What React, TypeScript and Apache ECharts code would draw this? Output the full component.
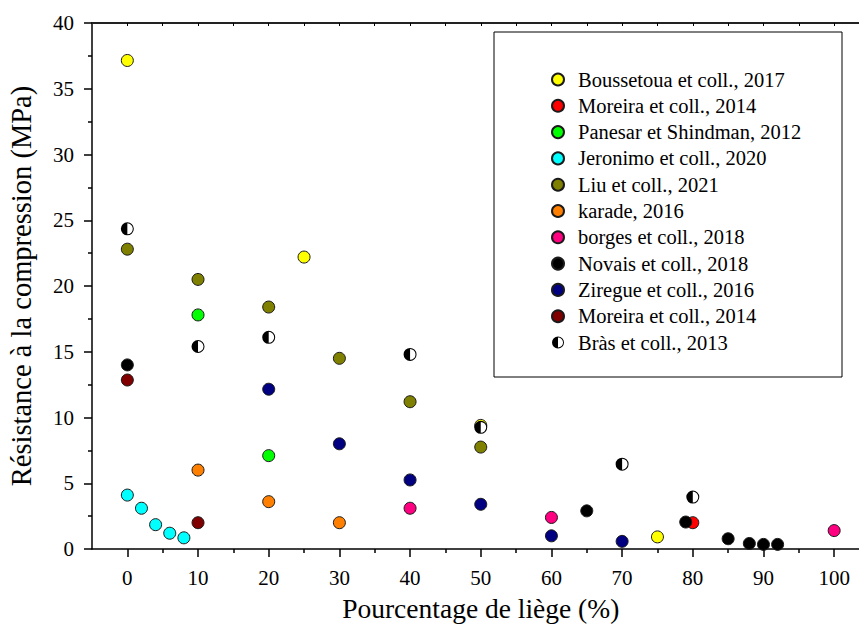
import React, { useEffect, useRef } from "react";
import * as echarts from "echarts";

const FONT = "'Liberation Serif', 'DejaVu Serif', serif";

const xLabelValues = [0, 10, 20, 30, 40, 50, 60, 70, 80, 90, 100];
const xMinorValues = [5, 15, 25, 35, 45, 55, 65, 75, 85, 95];
const xTopValues = [0, 5, 10, 15, 20, 25, 30, 35, 40, 45, 50, 55, 60, 65, 70, 75, 80, 85, 90, 95, 100];

const seriesNames = [
  "Boussetoua et coll., 2017",
  "Moreira et coll., 2014",
  "Panesar et Shindman, 2012",
  "Jeronimo et coll., 2020",
  "Liu et coll., 2021",
  "karade, 2016",
  "borges et coll., 2018",
  "Novais et coll., 2018",
  "Ziregue et coll., 2016",
  "Moreira et coll., 2014 ",
  "Bràs et coll., 2013",
];

const seriesColors = [
  "#FFFF00",
  "#FF0000",
  "#00FF00",
  "#00FFFF",
  "#808000",
  "#FF8000",
  "#FF0080",
  "#000000",
  "#000080",
  "#800000",
  "#000000",
];

const boussetoua = [[0, 37.15], [25, 22.2], [50, 9.4], [75, 0.92]];
const moreiraRed = [[80, 2.0]];
const panesar = [[10, 17.8], [20, 7.1]];
const jeronimo = [[0, 4.1], [2, 3.1], [4, 1.85], [6, 1.2], [8, 0.85]];
const liu = [[0, 22.8], [10, 20.5], [20, 18.4], [30, 14.5], [40, 11.2], [50, 7.75]];
const karade = [[10, 6.0], [20, 3.6], [30, 2.0]];
const borges = [[40, 3.1], [60, 2.4], [100, 1.4]];
const novais = [[0, 14.0], [65, 2.9], [79, 2.05], [85, 0.78], [88, 0.42], [90, 0.35], [92, 0.35]];
const ziregue = [[20, 12.15], [30, 8.0], [40, 5.25], [50, 3.4], [60, 1.0], [70, 0.58]];
const moreiraMaroon = [[0, 12.85], [10, 2.0]];
const bras = [[0, 24.35], [10, 15.4], [20, 16.1], [40, 14.8], [50, 9.25], [70, 6.45], [80, 3.95]];

const seriesData = [
  boussetoua,
  moreiraRed,
  panesar,
  jeronimo,
  liu,
  karade,
  borges,
  novais,
  ziregue,
  moreiraMaroon,
  bras,
];

const HALF_PATH =
  "path://M50,0A50,50 0 1,1 50,100A50,50 0 1,1 50,0Z M50,8L50,92A42,42 0 0,0 50,8Z";

export default function App() {
  const ref = useRef<HTMLDivElement>(null);

  useEffect(() => {
    if (!ref.current) return;
    const chart = echarts.init(ref.current, null, { renderer: "svg" });

    const series: any[] = [];
    seriesNames.forEach((name, i) => {
      const isBras = i === seriesNames.length - 1;
      if (isBras) {
        series.push({
          name: "__bras_base",
          type: "scatter",
          data: seriesData[i],
          symbol: "circle",
          symbolSize: 12,
          itemStyle: { color: "#ffffff", borderWidth: 0, opacity: 1 },
          silent: true,
          xAxisIndex: 0,
          yAxisIndex: 0,
        });
      }
      series.push({
        name,
        type: "scatter",
        data: seriesData[i],
        symbol: isBras ? HALF_PATH : "circle",
        symbolSize: isBras ? 13 : 12,
        itemStyle: isBras
          ? { color: "#000000", borderWidth: 0, opacity: 1 }
          : { color: seriesColors[i], borderColor: "#1a1a1a", borderWidth: 1, opacity: 1 },
        xAxisIndex: 0,
        yAxisIndex: 0,
      });
    });

    const option: any = {
      animation: false,
      backgroundColor: "#ffffff",
      textStyle: { fontFamily: FONT },
      grid: {
        left: 92,
        top: 23,
        width: 777.5,
        height: 526,
        containLabel: false,
        outerBoundsMode: "none",
      },
      xAxis: [
        {
          type: "value",
          position: "bottom",
          min: -5,
          max: 105,
          name: "Pourcentage de liège (%)",
          nameLocation: "middle",
          nameGap: 45,
          nameTextStyle: { fontFamily: FONT, fontSize: 27.5, color: "#000" },
          axisLine: { show: true, onZero: false, lineStyle: { color: "#000", width: 1.5 } },
          axisTick: {
            show: true,
            inside: false,
            length: 8,
            customValues: xLabelValues,
            lineStyle: { color: "#000", width: 1.5 },
          },
          axisLabel: {
            show: true,
            customValues: xLabelValues,
            margin: 18,
            fontFamily: FONT,
            fontSize: 21,
            color: "#000",
          },
          splitLine: { show: false },
        },
        {
          type: "value",
          position: "top",
          min: -5,
          max: 105,
          axisLine: { show: true, onZero: false, lineStyle: { color: "#222", width: 2 } },
          axisTick: {
            show: true,
            inside: true,
            length: 3,
            customValues: xTopValues,
            lineStyle: { color: "#000", width: 1 },
          },
          axisLabel: { show: false },
          splitLine: { show: false },
        },
        {
          type: "value",
          position: "bottom",
          min: -5,
          max: 105,
          axisLine: { show: false, onZero: false },
          axisTick: {
            show: true,
            inside: false,
            length: 4,
            customValues: xMinorValues,
            lineStyle: { color: "#000", width: 1.5 },
          },
          axisLabel: { show: false },
          splitLine: { show: false },
        },
      ],
      yAxis: [
        {
          type: "value",
          position: "left",
          min: 0,
          max: 40,
          interval: 5,
          name: "Résistance à la compression (MPa)",
          nameLocation: "middle",
          nameGap: 56,
          nameTextStyle: { fontFamily: FONT, fontSize: 28.5, color: "#000" },
          axisLine: { show: true, onZero: false, lineStyle: { color: "#000", width: 1.5 } },
          axisTick: { show: true, inside: false, length: 8, lineStyle: { color: "#000", width: 1.5 } },
          minorTick: { show: true, splitNumber: 2, length: 4, lineStyle: { color: "#000", width: 1.5 } },
          axisLabel: { show: true, margin: 18, fontFamily: FONT, fontSize: 21, color: "#000" },
          splitLine: { show: false },
          minorSplitLine: { show: false },
        },
      ],
      legend: {
        orient: "vertical",
        left: 546,
        top: 64,
        itemWidth: 12,
        itemHeight: 12,
        itemGap: 5.3,
        selectedMode: false,
        data: seriesNames,
        textStyle: {
          fontFamily: FONT,
          fontSize: 20.5,
          lineHeight: 20,
          color: "#000",
          padding: [0, 0, 0, 9],
        },
      },
      graphic: [
        {
          type: "rect",
          shape: { x: 494, y: 32, width: 348, height: 345 },
          style: { fill: "none", stroke: "#000", lineWidth: 1 },
          silent: true,
          z: 0,
        },
      ],
      series,
    };

    chart.setOption(option);
    return () => chart.dispose();
  }, []);

  return (
    <div
      ref={ref}
      style={{ position: "absolute", left: 0, top: 0, width: 859, height: 626, background: "#fff" }}
    />
  );
}
